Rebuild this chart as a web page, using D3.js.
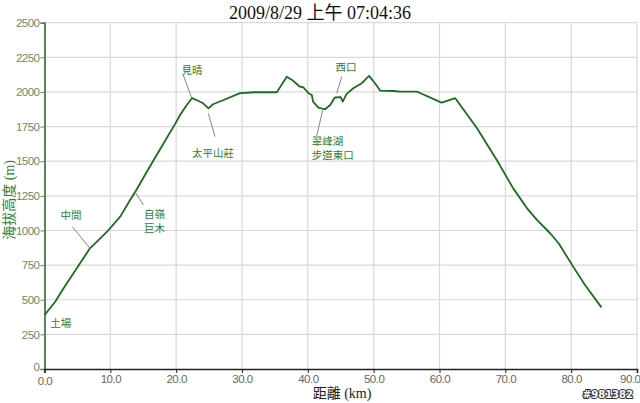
<!DOCTYPE html>
<html><head><meta charset="utf-8">
<script src="https://cdn.jsdelivr.net/npm/d3@7"></script>
<style>
html,body{margin:0;padding:0;background:#fff;}
svg{display:block;}
</style></head>
<body>
<script>
const title = "2009/8/29 上午 07:04:36";
const xLabel = "距離 (km)";
const yLabel = "海拔高度 (m)";
const watermark = "#981382";
const xTicks = [0,10,20,30,40,50,60,70,80,90];
const yTicks = [0,250,500,750,1000,1250,1500,1750,2000,2250,2500];

const km = [0.0,1.6,2.9,4.4,5.9,6.9,8.2,9.5,11.5,13.0,
  13.8,15.5,17.6,19.8,20.6,21.6,22.4,23.1,24.1,24.9,
  25.6,27.2,29.7,32.0,35.3,36.0,36.8,37.6,38.8,39.3,
  40.1,40.6,40.8,41.6,42.4,42.6,43.4,44.1,45.0,45.3,
  45.9,46.9,48.2,49.3,50.2,51.0,53.0,54.0,56.5,56.8,
  60.3,62.4,65.7,68.7,71.2,73.3,74.8,76.8,78.1,80.3,
  82.1,84.6];
const elev = [390,484,583,691,799,871,931,991,1100,1220,
  1280,1420,1590,1766,1834,1906,1955,1942,1918,1882,
  1911,1942,1991,1998,1998,2051,2110,2087,2038,2034,
  1991,1978,1930,1887,1877,1875,1906,1960,1962,1930,
  1986,2027,2063,2116,2063,2009,2007,2002,2002,1998,
  1923,1955,1738,1509,1304,1160,1076,980,908,739,
  606,445];

// annotations: text lines, label anchor (km, m), leader from/to (km, m)
const annoText = [["土場"],["中間"],["自嶺","巨木"],["見晴"],["太平山莊"],["西口"],["翠峰湖","步道東口"]];
const annoAt   = [[2.46,303],[4.02,1083],[16.7,1090],[22.4,2130],[25.6,1531],[45.8,2152],[40.6,1617]];
const annoAnchor = ["middle","middle","middle","middle","middle","middle","start"];
const leaderFrom = [null,[4.22,1027],[15.01,1184],[21.08,2123],[24.88,1846],[45.15,2110],[41.35,1682]];
const leaderTo   = [null,[6.91,871],[13.75,1280],[22.36,1955],[25.9,1677],[44.39,1991],[42.26,1870]];

const W=640,H=403;
const svg=d3.select("body").append("svg").attr("width",W).attr("height",H);
const x=d3.scaleLinear().domain([0,90]).range([44.5,637]);
const y=d3.scaleLinear().domain([0,2500]).range([369,22.7]);

// grid
svg.append("g").selectAll("line").data(xTicks.slice(1)).join("line")
  .attr("x1",d=>x(d)).attr("x2",d=>x(d)).attr("y1",y(2500)).attr("y2",y(0))
  .attr("stroke","#d9d9d9").attr("stroke-width",1.2);
svg.append("g").selectAll("line").data(yTicks.slice(1)).join("line")
  .attr("x1",x(0)).attr("x2",x(90)).attr("y1",d=>y(d)).attr("y2",d=>y(d))
  .attr("stroke","#d9d9d9").attr("stroke-width",1.2);

const tickFont="'Liberation Sans', 'DejaVu Sans', sans-serif";
// y axis
const ya=svg.append("g").attr("transform",`translate(${x(0)},0)`)
  .call(d3.axisLeft(y).tickValues(yTicks).tickSize(4).tickPadding(1).tickFormat(d3.format("d")));
ya.select(".domain").attr("stroke","#2e6b2e").attr("stroke-width",1.6);
ya.selectAll(".tick line").attr("stroke","#777");
ya.selectAll("text").attr("fill","#6a8a6a").style("font-family",tickFont).style("font-size","11.5px").style("letter-spacing","-0.5px");
ya.selectAll(".tick").filter(d=>d===0).select("text").attr("dy","0.1em");

// x axis
const xa=svg.append("g").attr("transform",`translate(0,${y(0)})`)
  .call(d3.axisBottom(x).tickValues(xTicks).tickSize(4).tickPadding(2).tickFormat(d3.format(".1f")));
xa.select(".domain").attr("stroke","#222").attr("stroke-width",1.6);
xa.selectAll(".tick line").attr("stroke","#222");
xa.selectAll("text").attr("fill","#666").style("font-family",tickFont).style("font-size","11.5px").style("letter-spacing","-0.5px");
xa.selectAll(".tick").filter(d=>d===0).select("text").attr("dy","0.85em");
xa.selectAll(".tick").filter(d=>d===90).select("text").attr("text-anchor","end").attr("dx","3");

// line
const pts=km.map((k,i)=>[k,elev[i]]);
svg.append("path").datum(pts)
  .attr("d",d3.line().x(d=>x(d[0])).y(d=>y(d[1])))
  .attr("fill","none").attr("stroke","#1e6b1e").attr("stroke-width",1.8).attr("stroke-linejoin","round");

// annotations
const annoFont="'Noto Sans CJK TC','Noto Sans CJK SC',sans-serif";
annoText.forEach((lines,i)=>{
  if(leaderFrom[i]){
    svg.append("line")
      .attr("x1",x(leaderFrom[i][0])).attr("y1",y(leaderFrom[i][1]))
      .attr("x2",x(leaderTo[i][0])).attr("y2",y(leaderTo[i][1]))
      .attr("stroke","#777").attr("stroke-width",0.9);
  }
  const t=svg.append("text").attr("x",x(annoAt[i][0])).attr("y",y(annoAt[i][1]))
    .attr("text-anchor",annoAnchor[i]).attr("fill","#2e7d32")
    .style("font-family",annoFont).style("font-size","10.5px");
  lines.forEach((l,j)=>t.append("tspan").attr("x",x(annoAt[i][0])).attr("dy",j?"1.3em":0).text(l));
});

// title
svg.append("text").attr("x",320).attr("y",19).attr("text-anchor","middle")
  .style("font-family","'Liberation Serif','Noto Sans CJK TC',serif").style("font-size","18px")
  .attr("fill","#111").text(title);
// axis labels
svg.append("text").attr("transform",`translate(14,${y(1250)+4}) rotate(-90)`).attr("text-anchor","middle")
  .style("font-family","'Liberation Serif','Noto Sans CJK TC',serif").style("font-size","14px")
  .attr("fill","#2e7d32").text(yLabel);
svg.append("text").attr("x",342).attr("y",398).attr("text-anchor","middle")
  .style("font-family","'Liberation Serif','Noto Sans CJK TC',serif").style("font-size","14px")
  .attr("fill","#222").text(xLabel);
// watermark
svg.append("text").attr("x",633).attr("y",398).attr("text-anchor","end")
  .style("font-family","'DejaVu Sans',sans-serif").style("font-size","10px").style("font-weight","bold")
  .attr("fill","#fff").attr("stroke","#333").attr("stroke-width",2).style("paint-order","stroke")
  .text(watermark);
</script>
</body></html>
